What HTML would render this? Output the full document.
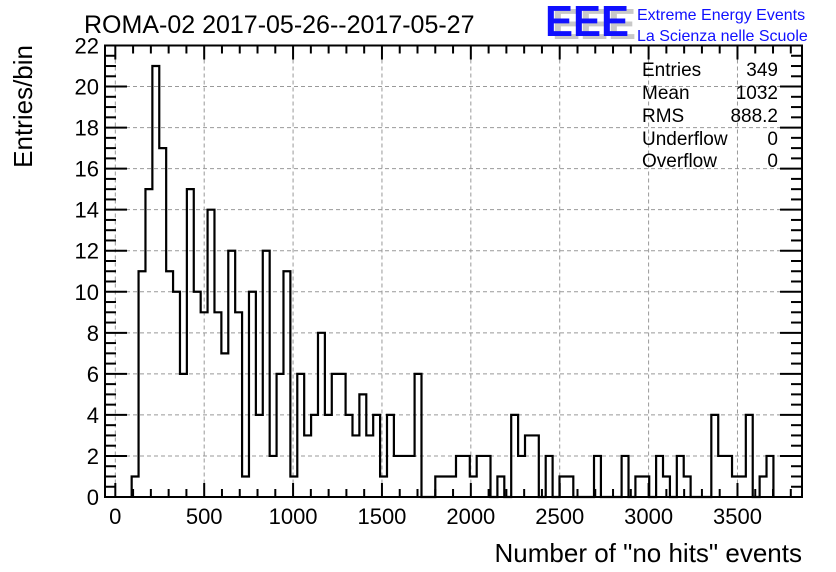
<!DOCTYPE html>
<html><head><meta charset="utf-8"><style>
html,body{margin:0;padding:0;background:#fff;}
svg{display:block;font-family:"Liberation Sans",sans-serif;}
</style></head><body>
<svg id="chart" width="836" height="572" viewBox="0 0 836 572" xmlns="http://www.w3.org/2000/svg">
<rect width="836" height="572" fill="#fff"/>
<text x="84" y="33" font-size="25">ROMA-02 2017-05-26--2017-05-27</text>
<g>
<text x="552" y="39" font-size="44" font-weight="bold" fill="#c8c8c8" textLength="84" lengthAdjust="spacingAndGlyphs">EEE</text>
<text x="545" y="36" font-size="44" font-weight="bold" fill="#1010ff" textLength="84" lengthAdjust="spacingAndGlyphs">EEE</text>
<text x="637" y="20" font-size="16" fill="#1010ff">Extreme Energy Events</text>
<text x="637" y="41" font-size="16" fill="#1010ff">La Scienza nelle Scuole</text>
</g>
<g id="grid"></g>
<g id="axes"></g>
<path id="hist" fill="none" stroke="#000" stroke-width="2.2"/>
<rect x="105" y="45.5" width="697" height="451.5" fill="none" stroke="#000" stroke-width="2"/>
<g font-size="19">
<text x="642" y="76">Entries</text><text x="778" y="76" text-anchor="end">349</text>
<text x="642" y="99">Mean</text><text x="778" y="99" text-anchor="end">1032</text>
<text x="642" y="122">RMS</text><text x="778" y="122" text-anchor="end">888.2</text>
<text x="642" y="145">Underflow</text><text x="778" y="145" text-anchor="end">0</text>
<text x="642" y="167">Overflow</text><text x="778" y="167" text-anchor="end">0</text>
</g>
<text x="802" y="562" font-size="26" text-anchor="end">Number of "no hits" events</text>
<text transform="translate(32,45) rotate(-90)" font-size="26" text-anchor="end">Entries/bin</text>
</svg>
<script>
const counts = [1,11,15,21,17,11,10,6,15,10,9,14,9,7,12,9,1,10,4,12,2,6,11,1,6,3,4,8,4,6,
6,4,3,5,3,4,1,4,2,2,2,6,0,0,1,1,1,2,2,1,2,2,0,1,0,4,2,3,3,0,2,0,1,1,
0,0,0,2,0,0,0,2,0,1,1,0,2,1,0,2,1,0,0,0,4,2,2,1,1,4,0,1,2];
const binStart = 92;
const binWidth = 38.82;
const xTicks = [0,500,1000,1500,2000,2500,3000,3500];
const yTicks = [0,2,4,6,8,10,12,14,16,18,20,22];

const X0=105, X1=802, Y0=497, Y1=45.5;
const xMin=-58, xMax=3863, yMin=0, yMax=22;
function xs(v){return X0+(v-xMin)/(xMax-xMin)*(X1-X0);}
function ys(v){return Y0-(v-yMin)/(yMax-yMin)*(Y0-Y1);}
const NS="http://www.w3.org/2000/svg";
function mk(tag,attrs,parent){const e=document.createElementNS(NS,tag);for(const k in attrs)e.setAttribute(k,attrs[k]);parent.appendChild(e);return e;}

const grid=document.getElementById('grid'), axes=document.getElementById('axes');
xTicks.forEach(t=>{
  const x=xs(t);
  const g=mk('line',{x1:x,x2:x,y1:Y1,y2:Y0,stroke:'#999','stroke-dasharray':'4,3','stroke-width':1},grid);
  
  
  const lb=mk('text',{x:x,y:524,'font-size':22,'text-anchor':'middle'},axes);
  lb.textContent=t;
  
  
});
yTicks.forEach(t=>{
  const y=ys(t);
  if(t>0&&t<22){
    const g=mk('line',{x1:X0,x2:X1,y1:y,y2:y,stroke:'#999','stroke-dasharray':'4,3','stroke-width':1},grid);
    
    
  }
  const lb=mk('text',{x:99,y:y+8,'font-size':22,'text-anchor':'end'},axes);
  lb.textContent=t;
  
  
});
// x ticks
for(let v=-0;v<=3800;v+=100){
  const x=xs(v); const L=(v%500===0)?14:8;
  mk('line',{x1:x,x2:x,y1:Y0,y2:Y0-L,stroke:'#000','stroke-width':2},axes);
  mk('line',{x1:x,x2:x,y1:Y1,y2:Y1+L,stroke:'#000','stroke-width':2},axes);
}
// y ticks
for(let v=0;v<=22;v+=0.5){
  const y=ys(v); const L=(v%2===0)?22:11;
  mk('line',{x1:X0,x2:X0+L,y1:y,y2:y,stroke:'#000','stroke-width':2},axes);
  mk('line',{x1:X1,x2:X1-L,y1:y,y2:y,stroke:'#000','stroke-width':2},axes);
}
// histogram
let d='M'+xs(binStart)+' '+ys(0);
counts.forEach((c,i)=>{
  const a=xs(binStart+i*binWidth), b=xs(binStart+(i+1)*binWidth);
  d+=' L'+a+' '+ys(c)+' L'+b+' '+ys(c);
});
d+=' L'+xs(binStart+counts.length*binWidth)+' '+ys(0);
document.getElementById('hist').setAttribute('d',d);
</script>
</body></html>
